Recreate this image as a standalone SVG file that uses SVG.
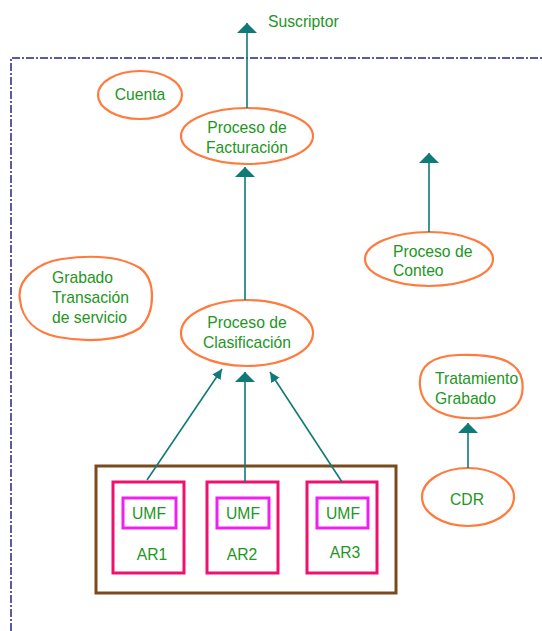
<svg xmlns="http://www.w3.org/2000/svg" width="542" height="631" viewBox="0 0 542 631">
<defs>
<marker id="ah" viewBox="0 0 10 20" refX="10" refY="10" markerWidth="10" markerHeight="20" markerUnits="userSpaceOnUse" orient="auto">
<path d="M0,0 L10,10 L0,20 Z" fill="#0f7a78"/>
</marker>
<marker id="ah2" viewBox="0 0 10 10" refX="10" refY="5" markerWidth="10" markerHeight="10" markerUnits="userSpaceOnUse" orient="auto">
<path d="M0,0 L10,5 L0,10 Z" fill="#0f7a78"/>
</marker>
<style>
.el{fill:#fff;stroke:#ff7a3c;stroke-width:2.2}
.t{font-family:"Liberation Sans",Arial,sans-serif;font-size:15.7px;fill:#22961e}
.c{text-anchor:middle}
.ar{fill:#fff;stroke:#f0106e;stroke-width:3}
.umf{fill:#fff;stroke:#f020f0;stroke-width:3}
.cn{stroke:#0f7a78;stroke-width:1.6;fill:none}
</style>
</defs>
<rect width="542" height="631" fill="#fff"/>
<path d="M11,631 L11,58 L542,58" fill="none" stroke="#5a5aaa" stroke-width="2" stroke-dasharray="8,2,2,2"/>
<text class="t" x="268" y="27">Suscriptor</text>
<g id="cuenta"><ellipse class="el" cx="140" cy="95" rx="42" ry="24"/><text class="t c" x="140" y="100">Cuenta</text></g>
<g id="facturacion"><ellipse class="el" cx="247" cy="136" rx="66" ry="28"/><text class="t c" x="247" y="133">Proceso de</text><text class="t c" x="247" y="153">Facturación</text></g>
<g id="grabado"><path class="el" d="M20,300 C16,278 40,262 62,259 C90,255 120,256 140,268 C156,280 156,312 140,328 C120,342 84,342 58,337 C34,332 22,318 20,300 Z"/><text class="t" x="52" y="283">Grabado</text><text class="t" x="52" y="303">Transación</text><text class="t" x="52" y="323">de servicio</text></g>
<g id="clasificacion"><ellipse class="el" cx="247" cy="333" rx="66" ry="33"/><text class="t c" x="247" y="328">Proceso de</text><text class="t c" x="247" y="348">Clasificación</text></g>
<g id="conteo"><ellipse class="el" cx="429" cy="259" rx="64" ry="27"/><text class="t" x="393" y="257">Proceso de</text><text class="t" x="393" y="276">Conteo</text></g>
<g id="tratamiento"><path class="el" d="M420,386 C418,366 432,356 458,355 C490,354 518,358 522,380 C526,404 512,416 480,418 C448,420 422,410 420,386 Z"/><text class="t" x="435" y="384">Tratamiento</text><text class="t" x="435" y="404">Grabado</text></g>
<g id="cdr"><ellipse class="el" cx="468" cy="497" rx="46" ry="29"/><text class="t c" x="467" y="505">CDR</text></g>
<g id="ar-group"><rect x="96" y="466" width="300" height="127" fill="#fff" stroke="#7a4a1c" stroke-width="3"/></g>
<g id="ar1"><rect class="ar" x="113" y="482" width="71" height="91"/><rect class="umf" x="123" y="498" width="53" height="30"/><text class="t c" x="149" y="519">UMF</text><text class="t c" x="152" y="560">AR1</text></g>
<g id="ar2"><rect class="ar" x="207" y="482" width="71" height="91"/><rect class="umf" x="217" y="498" width="52" height="30"/><text class="t c" x="243" y="519">UMF</text><text class="t c" x="242" y="560">AR2</text></g>
<g id="ar3"><rect class="ar" x="307" y="482" width="70" height="91"/><rect class="umf" x="317" y="498" width="51" height="30"/><text class="t c" x="343" y="519">UMF</text><text class="t c" x="345" y="558">AR3</text></g>
<g id="connectors">
<line class="cn" x1="247" y1="108" x2="247" y2="23" marker-end="url(#ah)"/>
<line class="cn" x1="245" y1="300" x2="245" y2="167" marker-end="url(#ah)"/>
<line class="cn" x1="429" y1="232" x2="429" y2="153" marker-end="url(#ah)"/>
<line class="cn" x1="468" y1="468" x2="468" y2="423" marker-end="url(#ah)"/>
<line class="cn" x1="245" y1="482" x2="245" y2="372" marker-end="url(#ah)"/>
<line class="cn" x1="147" y1="480" x2="222" y2="369" marker-end="url(#ah2)"/>
<line class="cn" x1="342" y1="482" x2="270" y2="372" marker-end="url(#ah2)"/>
</g>
</svg>
